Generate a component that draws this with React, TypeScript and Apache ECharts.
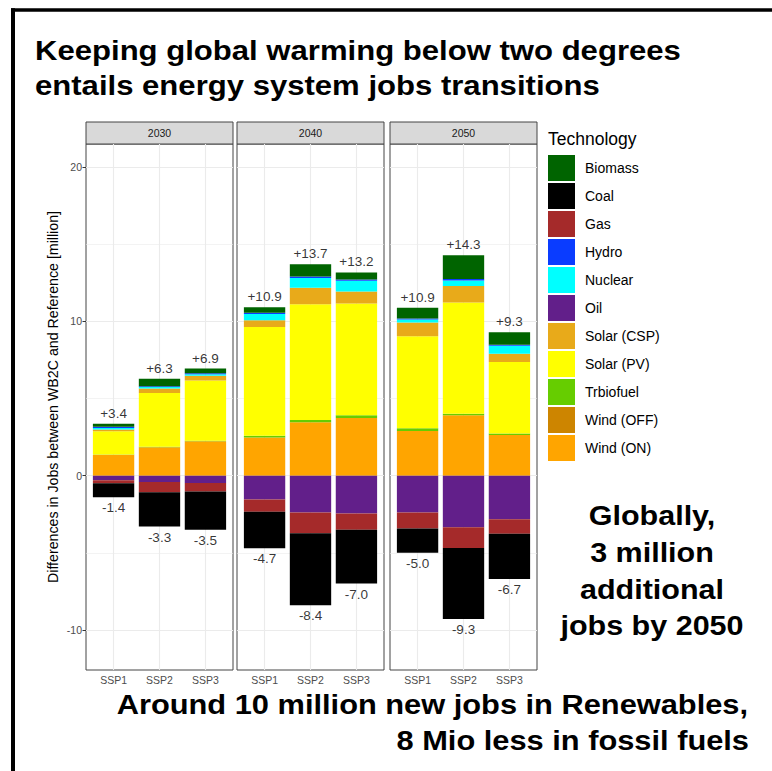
import React, { useEffect, useRef } from 'react';
import * as echarts from 'echarts';

// ---------- data ----------
const categories = ['SSP1', 'SSP2', 'SSP3'];
const years = ['2030', '2040', '2050'];
const legendOrder = ['Biomass', 'Coal', 'Gas', 'Hydro', 'Nuclear', 'Oil', 'Solar (CSP)', 'Solar (PV)', 'Trbiofuel', 'Wind (OFF)', 'Wind (ON)'];
// stacking order from the zero line outwards
const stackOrder = ['Wind (ON)', 'Wind (OFF)', 'Trbiofuel', 'Solar (PV)', 'Solar (CSP)', 'Oil', 'Nuclear', 'Hydro', 'Gas', 'Coal', 'Biomass'];

// rows: 2030, 2040, 2050 ; columns: SSP1, SSP2, SSP3 (million jobs)
const windOn = [[1.35, 1.84, 2.23], [2.48, 3.46, 3.73], [2.9, 3.91, 2.63]];
const windOff = [[0, 0, 0], [0, 0, 0], [0, 0, 0]];
const trbiofuel = [[0.02, 0.03, 0.03], [0.1, 0.15, 0.18], [0.18, 0.1, 0.1]];
const solarPV = [[1.5, 3.48, 3.9], [7.05, 7.5, 7.25], [5.95, 7.21, 4.64]];
const solarCSP = [[0.12, 0.3, 0.32], [0.45, 1.07, 0.78], [0.89, 1.07, 0.54]];
const oil = [[-0.3, -0.41, -0.48], [-1.54, -2.39, -2.46], [-2.39, -3.35, -2.83]];
const nuclear = [[0.1, 0.1, 0.1], [0.4, 0.63, 0.69], [0.2, 0.36, 0.51]];
const hydro = [[0.08, 0.05, 0.06], [0.08, 0.1, 0.09], [0.06, 0.09, 0.07]];
const gas = [[-0.2, -0.67, -0.54], [-0.8, -1.34, -1.05], [-1.03, -1.34, -0.94]];
const coal = [[-0.9, -2.22, -2.48], [-2.36, -4.67, -3.49], [-1.58, -4.61, -2.93]];
const biomass = [[0.2, 0.48, 0.3], [0.35, 0.8, 0.45], [0.71, 1.54, 0.8]];

const yTickValues = [-10, 0, 10, 20];
const yMajorGrid = [-10, 0, 10, 20];
const yMinorGrid = [-5, 5, 15];

const titleLines = ['Keeping global warming below two degrees', 'entails energy system jobs transitions'];
const sideLines = ['Globally,', '3 million', 'additional', 'jobs by 2050'];
const bottomLines = ['Around 10 million new jobs in Renewables,', '8 Mio less in fossil fuels'];

const valuesByTech: Record<string, number[][]> = {
  'Wind (ON)': windOn,
  'Wind (OFF)': windOff,
  'Trbiofuel': trbiofuel,
  'Solar (PV)': solarPV,
  'Solar (CSP)': solarCSP,
  'Oil': oil,
  'Nuclear': nuclear,
  'Hydro': hydro,
  'Gas': gas,
  'Coal': coal,
  'Biomass': biomass,
};

const colors: Record<string, string> = {
  'Biomass': '#006400',
  'Coal': '#000000',
  'Gas': '#a52a2a',
  'Hydro': '#0a3cff',
  'Nuclear': '#00ffff',
  'Oil': '#621f8a',
  'Solar (CSP)': '#e8aa1a',
  'Solar (PV)': '#ffff00',
  'Trbiofuel': '#66cd00',
  'Wind (OFF)': '#cd8500',
  'Wind (ON)': '#ffa500',
};

// ---------- layout ----------
const FONT = 'Liberation Sans, Arial, Helvetica, sans-serif';
const PANEL_LEFT = [86, 237, 390];
const PANEL_W = 147;
const PANEL_TOP = 144;
const PANEL_H = 526;
const Y_MIN = -12.6;
const Y_MAX = 21.5;
const BAR_W = 0.9;

export default function App() {
  const ref = useRef<HTMLDivElement>(null);

  useEffect(() => {
    document.body.style.margin = '0';
    const chart = echarts.init(ref.current!, null, { renderer: 'svg' });

    const grids = PANEL_LEFT.map((left) => ({
      left,
      top: PANEL_TOP,
      width: PANEL_W,
      height: PANEL_H,
      show: true,
      borderColor: '#444',
      borderWidth: 1,
      backgroundColor: '#fff',
      containLabel: false,
    }));

    const xAxes = years.map((_, g) => ({
      type: 'value',
      gridIndex: g,
      min: 0.4,
      max: 3.6,
      axisLine: { show: false },
      splitLine: { show: false },
      axisTick: { show: true, customValues: [1, 2, 3], length: 3.5, lineStyle: { color: '#333', width: 1 } },
      axisLabel: {
        show: true,
        customValues: [1, 2, 3],
        formatter: (v: number) => categories[Math.round(v) - 1] ?? '',
        color: '#4d4d4d',
        fontSize: 10.5,
        fontFamily: FONT,
        margin: 4,
      },
    }));

    const yAxes = years.map((_, g) => ({
      type: 'value',
      gridIndex: g,
      min: Y_MIN,
      max: Y_MAX,
      axisLine: { show: false },
      splitLine: { show: false },
      axisTick: { show: g === 0, customValues: yTickValues, length: 3.5, lineStyle: { color: '#333', width: 1 } },
      axisLabel: {
        show: g === 0,
        customValues: yTickValues,
        color: '#4d4d4d',
        fontSize: 10.5,
        fontFamily: FONT,
        margin: 4,
      },
      name: g === 0 ? 'Differences in Jobs between WB2C and Reference [million]' : '',
      nameLocation: 'middle',
      nameGap: 26,
      nameTextStyle: { color: '#000', fontSize: 14.2, fontFamily: FONT, padding: [0, 0, 0, 20] },
    }));

    const gridLineData = [
      ...yMajorGrid.map((v) => ({ yAxis: v, lineStyle: { width: 1.1 } })),
      ...yMinorGrid.map((v) => ({ yAxis: v, lineStyle: { width: 0.6 } })),
      ...categories.map((_, k) => ({ xAxis: k + 1, lineStyle: { width: 1.1 } })),
    ];

    const series: any[] = [];
    years.forEach((_, g) => {
      // stack segments (positive values upward, negative values downward)
      const segs: Record<string, number[][]> = {};
      stackOrder.forEach((t) => (segs[t] = []));
      const posTotals: number[] = [];
      const negTotals: number[] = [];
      categories.forEach((_, k) => {
        let pos = 0;
        let neg = 0;
        stackOrder.forEach((t) => {
          const v = valuesByTech[t][g][k];
          if (v >= 0) {
            segs[t].push([k + 1, pos, pos + v]);
            pos += v;
          } else {
            segs[t].push([k + 1, neg + v, neg]);
            neg += v;
          }
        });
        posTotals.push(pos);
        negTotals.push(neg);
      });

      stackOrder.forEach((tech) => {
        series.push({
          type: 'custom',
          name: tech,
          xAxisIndex: g,
          yAxisIndex: g,
          itemStyle: { color: colors[tech] },
          encode: { x: 0, y: [1, 2] },
          silent: true,
          z: 2,
          data: segs[tech],
          renderItem: (params: any, api: any) => {
            const x = api.value(0);
            const lo = api.value(1);
            const hi = api.value(2);
            if (hi - lo <= 0) return null;
            const p1 = api.coord([x - BAR_W / 2, hi]);
            const p2 = api.coord([x + BAR_W / 2, lo]);
            return {
              type: 'rect',
              shape: { x: p1[0], y: p1[1], width: p2[0] - p1[0], height: p2[1] - p1[1] },
              style: { fill: colors[tech] },
            };
          },
        });
      });

      series.push({
        type: 'scatter',
        xAxisIndex: g,
        yAxisIndex: g,
        symbolSize: 1,
        itemStyle: { color: 'rgba(0,0,0,0)' },
        silent: true,
        z: 5,
        label: {
          show: true,
          position: 'top',
          distance: 3,
          color: '#000',
          fontSize: 13.5,
          fontFamily: FONT,
          formatter: (p: any) => '+' + p.value[1].toFixed(1),
        },
        markLine: {
          silent: true,
          z: 1,
          symbol: ['none', 'none'],
          label: { show: false },
          lineStyle: { color: '#ebebeb', type: 'solid' },
          emphasis: { disabled: true },
          data: gridLineData,
        },
        data: posTotals.map((v, k) => [k + 1, v]),
      });
      series.push({
        type: 'scatter',
        xAxisIndex: g,
        yAxisIndex: g,
        symbolSize: 1,
        itemStyle: { color: 'rgba(0,0,0,0)' },
        silent: true,
        z: 5,
        label: {
          show: true,
          position: 'bottom',
          distance: 3,
          color: '#000',
          fontSize: 13.5,
          fontFamily: FONT,
          formatter: (p: any) => p.value[1].toFixed(1),
        },
        data: negTotals.map((v, k) => [k + 1, v]),
      });
    });

    const bigText = (text: string, x: number, y: number, align: string, sx: number) => ({
      type: 'text',
      x,
      y,
      scaleX: sx,
      silent: true,
      style: {
        text,
        fill: '#000',
        fontSize: 28,
        fontWeight: 'bold',
        fontFamily: FONT,
        align,
        verticalAlign: 'middle',
      },
    });

    const graphic: any[] = [
      // frame
      { type: 'rect', silent: true, shape: { x: 11, y: 8.3, width: 761, height: 3.4 }, style: { fill: '#000' } },
      { type: 'rect', silent: true, shape: { x: 11, y: 8.3, width: 4, height: 763 }, style: { fill: '#000' } },
      // titles
      bigText(titleLines[0], 35, 49.8, 'left', 1.11),
      bigText(titleLines[1], 35, 85.3, 'left', 1.11),
      bigText(sideLines[0], 652, 515.3, 'center', 1.09),
      bigText(sideLines[1], 652, 551.8, 'center', 1.09),
      bigText(sideLines[2], 652, 588.8, 'center', 1.09),
      bigText(sideLines[3], 652, 624.8, 'center', 1.09),
      bigText(bottomLines[0], 748, 704.3, 'right', 1.1),
      bigText(bottomLines[1], 749, 740.3, 'right', 1.1),
      // legend title
      {
        type: 'text', x: 548, y: 138.9, silent: true,
        style: { text: 'Technology', fill: '#000', fontSize: 17.5, fontFamily: FONT, align: 'left', verticalAlign: 'middle' },
      },
    ];
    years.forEach((yr, g) => {
      graphic.push({
        type: 'rect', silent: true,
        shape: { x: PANEL_LEFT[g], y: 122, width: PANEL_W, height: 22 },
        style: { fill: '#d9d9d9', stroke: '#444', lineWidth: 1 },
      });
      graphic.push({
        type: 'text', silent: true, x: PANEL_LEFT[g] + PANEL_W / 2, y: 133,
        style: { text: yr, fill: '#1a1a1a', fontSize: 10.5, fontFamily: FONT, align: 'center', verticalAlign: 'middle' },
      });
    });

    const option: any = {
      animation: false,
      backgroundColor: '#fff',
      textStyle: { fontFamily: FONT },
      grid: grids,
      xAxis: xAxes,
      yAxis: yAxes,
      legend: {
        show: true,
        orient: 'vertical',
        left: 548,
        top: 155,
        padding: 0,
        itemWidth: 27,
        itemHeight: 26,
        itemGap: 2,
        icon: 'rect',
        selectedMode: false,
        data: legendOrder,
        textStyle: { color: '#000', fontSize: 14, fontFamily: FONT, padding: [0, 0, 0, 5] },
      },
      series,
      graphic,
    };

    chart.setOption(option);
    return () => chart.dispose();
  }, []);

  return <div ref={ref} style={{ width: 772, height: 771 }} />;
}
